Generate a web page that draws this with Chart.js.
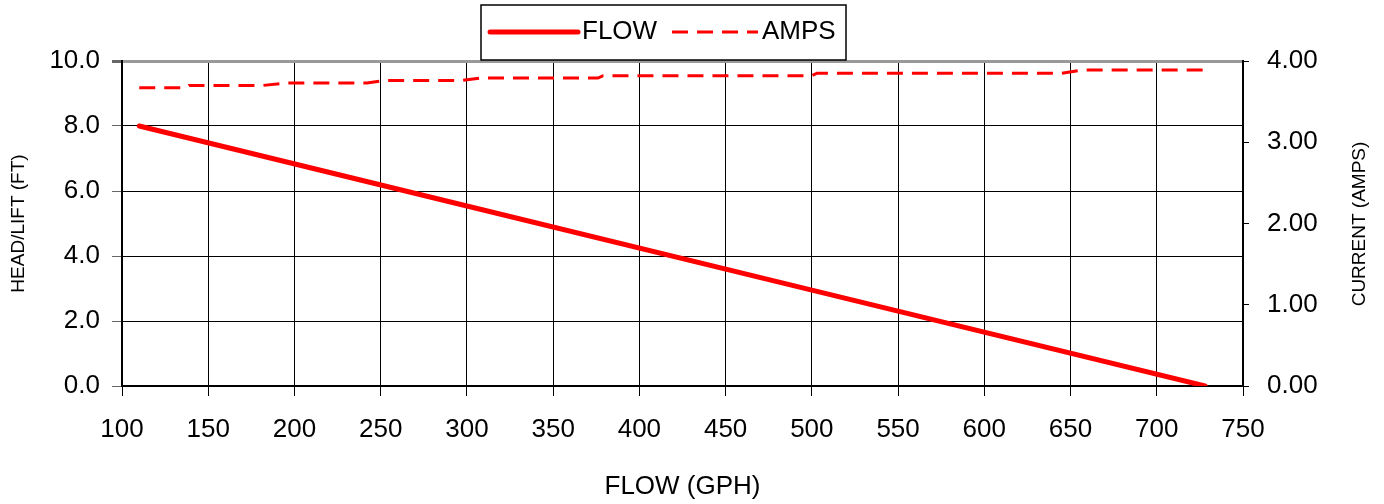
<!DOCTYPE html>
<html lang="en">
  <head>
    <meta charset="UTF-8" />
    <title>Flow / Amps curve</title>
    <script src="https://cdn.jsdelivr.net/npm/chart.js"></script>
    <style>
      body { margin: 0; background: #fff; }
      #wrap { width: 1384px; height: 504px; position: relative; }
    </style>
  </head>
  <body>
    <div id="wrap"><canvas id="pumpChart"></canvas></div>

    <script>
      // Flow curve (head vs gph)
      const flowGph = [110, 300, 500, 728]
      const headFt = [8.0, 5.54, 2.95, 0.0]

      // Current draw vs gph
      const ampsGph = [110, 137, 139, 182, 195, 242, 252, 297, 308, 376, 379, 500, 503, 645, 657, 728]
      const ampsVal = [3.67, 3.67, 3.7, 3.7, 3.73, 3.73, 3.76, 3.76, 3.79, 3.79, 3.82, 3.82, 3.85, 3.85, 3.89, 3.89]

      const gphTicks = [100, 750, 50]
      const headTicks = [0, 10, 2]
      const ampTicks = [0, 4, 1]

      const FONT = "'Liberation Sans', Arial, sans-serif"

      const toPoints = (xs, ys) => xs.map((x, i) => ({ x: x, y: ys[i] }))

      // legend with a frame, plus right axis title reading upwards
      const extras = {
        id: 'extras',
        afterDraw(chart) {
          const ctx = chart.ctx
          const ds = chart.data.datasets
          ctx.save()
          ctx.strokeStyle = '#000'
          ctx.lineWidth = 1.5
          ctx.strokeRect(481, 5, 365, 55)

          ctx.font = '26px ' + FONT
          ctx.fillStyle = '#000'
          ctx.textBaseline = 'middle'
          const items = [
            { x: 490, len: 88, d: ds[0] },
            { x: 672, len: 86, d: ds[1] },
          ]
          items.forEach((it) => {
            ctx.beginPath()
            ctx.strokeStyle = it.d.borderColor
            ctx.lineWidth = it.d.borderWidth
            ctx.lineCap = it.d.borderDash ? 'butt' : 'round'
            ctx.setLineDash(it.d.borderDash || [])
            ctx.moveTo(it.x, 32)
            ctx.lineTo(it.x + it.len, 32)
            ctx.stroke()
            ctx.setLineDash([])
            ctx.fillText(it.d.label, it.x + it.len + 4, 32)
          })

          ctx.font = '19px ' + FONT
          ctx.translate(1360, 224)
          ctx.rotate(-Math.PI / 2)
          ctx.textAlign = 'center'
          ctx.fillText('CURRENT (AMPS)', 0, 0)
          ctx.restore()
        },
      }

      new Chart(document.getElementById('pumpChart').getContext('2d'), {
        type: 'line',
        data: {
          datasets: [
            {
              label: 'FLOW',
              data: toPoints(flowGph, headFt),
              borderColor: '#ff0000',
              borderWidth: 5,
              borderCapStyle: 'round',
              pointRadius: 0,
              yAxisID: 'y',
            },
            {
              label: 'AMPS',
              data: toPoints(ampsGph, ampsVal),
              borderColor: '#ff0000',
              borderWidth: 3,
              borderDash: [16, 9],
              pointRadius: 0,
              yAxisID: 'y1',
            },
          ],
        },
        options: {
          responsive: true,
          maintainAspectRatio: false,
          animation: false,
          layout: { padding: { top: 61, left: 0, right: 0, bottom: 0 } },
          plugins: { legend: { display: false }, tooltip: { enabled: false } },
          scales: {
            x: {
              type: 'linear',
              min: gphTicks[0],
              max: gphTicks[1],
              ticks: { stepSize: gphTicks[2], color: '#000', font: { family: FONT, size: 26 }, padding: 18, maxRotation: 0 },
              grid: { color: '#000', lineWidth: 1, tickLength: 10, tickColor: '#000' },
              border: { color: '#000', width: 2 },
              title: { display: true, text: 'FLOW (GPH)', color: '#000', font: { family: FONT, size: 26 }, padding: { top: 0, bottom: 2 } },
              afterFit: (s) => { s.height = 118 },
            },
            y: {
              position: 'left',
              min: headTicks[0],
              max: headTicks[1],
              ticks: { stepSize: headTicks[2], color: '#000', font: { family: FONT, size: 26 }, padding: 12, callback: (v) => v.toFixed(1) },
              grid: {
                color: (c) => (c.tick && c.tick.value === 10 ? '#999' : '#000'),
                lineWidth: (c) => (c.tick && c.tick.value === 10 ? 3 : 1),
                tickLength: 10,
                tickColor: '#666',
              },
              border: { color: '#000', width: 2 },
              title: { display: true, text: 'HEAD/LIFT (FT)', color: '#000', font: { family: FONT, size: 19 }, padding: { top: 7, bottom: 0 } },
              afterFit: (s) => { s.width = 122 },
            },
            y1: {
              position: 'right',
              min: ampTicks[0],
              max: ampTicks[1],
              ticks: { stepSize: ampTicks[2], color: '#000', font: { family: FONT, size: 26 }, padding: 18, callback: (v) => v.toFixed(2) },
              grid: { drawOnChartArea: false, tickLength: 6, tickColor: '#000' },
              border: { color: '#000', width: 2 },
              afterFit: (s) => { s.width = 141 },
            },
          },
        },
        plugins: [extras],
      })
    </script>
  </body>
</html>
